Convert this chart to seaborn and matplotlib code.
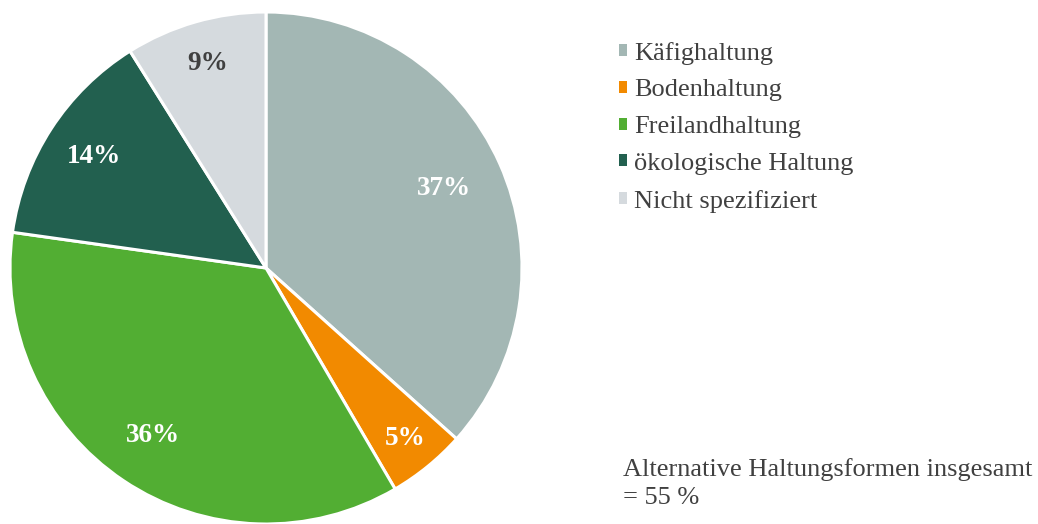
import numpy as np
import matplotlib
matplotlib.use("Agg")
import matplotlib.pyplot as plt
import seaborn as sns

categories = ["Käfighaltung", "Bodenhaltung", "Freilandhaltung", "ökologische Haltung", "Nicht spezifiziert"]
values = [37, 5, 36, 14, 9]
pct_labels = ["37%", "5%", "36%", "14%", "9%"]
colors = ["#A3B7B4", "#F28A00", "#52AE33", "#22604F", "#D5DADE"]
label_colors = ["white", "white", "white", "white", "#404040"]
label_dist = [0.76, 0.86, 0.79, 0.80, 0.83]
note = "Alternative Haltungsformen insgesamt\n= 55 %"

sns.set_theme(style="white")
plt.rcParams['font.family'] = ['Liberation Serif', 'DejaVu Serif']

fig = plt.figure(figsize=(10.38, 5.24), dpi=100)
W, H = 1038, 524
cx, cy, r = 266, 268, 256
ax = fig.add_axes([(cx - r) / W, (H - cy - r) / H, 2 * r / W, 2 * r / H])

wedges, _ = ax.pie(values, colors=colors, startangle=90, counterclock=False,
                   radius=1.0, wedgeprops=dict(edgecolor="white", linewidth=2.2))
for w, lab, d, c in zip(wedges, pct_labels, label_dist, label_colors):
    ang = np.deg2rad((w.theta1 + w.theta2) / 2)
    ax.text(d * np.cos(ang), d * np.sin(ang), lab, ha="center", va="center",
            color=c, fontsize=19.5, fontweight="bold")
ax.set_xlim(-1, 1)
ax.set_ylim(-1, 1)
ax.set_aspect("equal")
ax.axis("off")

leg = fig.legend(wedges, categories, loc="upper left", bbox_to_anchor=(608 / W, 1 - 31 / H),
                 frameon=False, fontsize=19, handlelength=0.32, handleheight=0.32,
                 handletextpad=0.28, labelspacing=0.56, borderaxespad=0)
for t in leg.get_texts():
    t.set_color("#404040")
for h in leg.legend_handles:
    h.set_edgecolor("none")

fig.text(623 / W, 1 - 458 / H, note, ha="left", va="top", fontsize=19,
         color="#404040", linespacing=1.35)

fig.savefig("out.png", dpi=100)
